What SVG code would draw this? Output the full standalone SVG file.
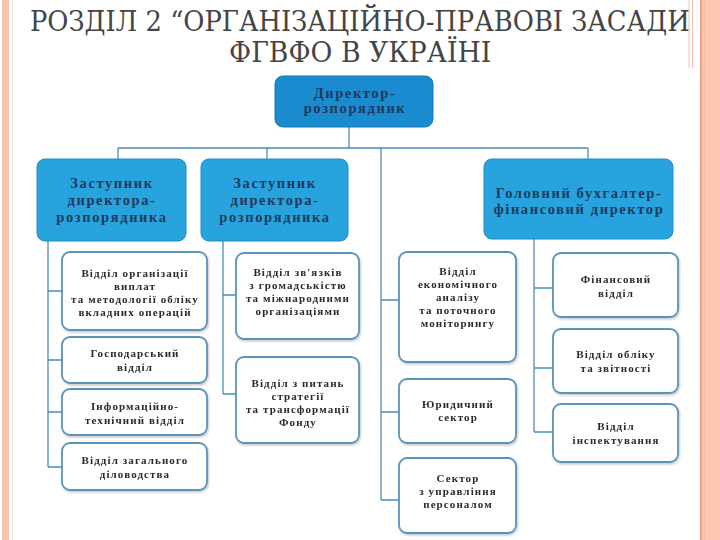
<svg xmlns="http://www.w3.org/2000/svg" width="720" height="540" viewBox="0 0 720 540">
<defs>
<style>
.title{font-family:"DejaVu Serif","Liberation Serif",serif;font-size:28px;fill:#444444}
.bt{font-family:"Liberation Serif","DejaVu Serif",serif;font-weight:bold;font-size:14.5px;letter-spacing:1.6px;fill:#1e3a5c;text-anchor:middle}
.wt{font-family:"Liberation Serif","DejaVu Serif",serif;font-weight:bold;font-size:11px;letter-spacing:1.1px;fill:#2a2a2a;text-anchor:middle}
.top{fill:#1b8bd0;stroke:#1779b8;stroke-width:1}
.mid{fill:#27a3de;stroke:#1f8cc4;stroke-width:1}
.box{fill:#ffffff;stroke:#5b93b8;stroke-width:1.8}
.con{stroke:#4f8db5;stroke-width:1.3;fill:none}
</style>
<filter id="sh" x="-10%" y="-10%" width="130%" height="130%">
<feDropShadow dx="1" dy="1.5" stdDeviation="1.2" flood-color="#000" flood-opacity="0.22"/>
</filter>
</defs>
<rect width="720" height="540" fill="#ffffff"/>
<g id="decor">
<rect x="2" y="0" width="7" height="540" fill="#fcc4ae"/>
<line x1="12.5" y1="0" x2="12.5" y2="540" stroke="#fde3d8" stroke-width="1"/>
<rect x="700" y="0" width="20" height="540" fill="#fcc7b3"/>
<line x1="701" y1="0" x2="701" y2="540" stroke="#f2a07e" stroke-width="2"/>
<line x1="704.5" y1="0" x2="704.5" y2="540" stroke="#f7b9a0" stroke-width="1"/>
<line x1="689" y1="0" x2="689" y2="68" stroke="#f4c2ad" stroke-width="1"/>
<line x1="692.5" y1="0" x2="692.5" y2="68" stroke="#f4c2ad" stroke-width="1"/>
</g>
<g id="title" transform="scale(0.86 1)">
<text class="title" x="34.9" y="31" textLength="767" lengthAdjust="spacingAndGlyphs">РОЗДІЛ 2 “ОРГАНІЗАЦІЙНО-ПРАВОВІ ЗАСАДИ</text>
<text class="title" x="266.3" y="62" textLength="305" lengthAdjust="spacingAndGlyphs">ФГВФО В УКРАЇНІ</text>
</g>
<g id="connectors">
<path class="con" d="M349 127V148M118 148H588M118 148V159M267 148V159M588 148V159M381 148V500"/>
<path class="con" d="M48 241V467M48 291H62M48 360H62M48 412H62M48 467H62"/>
<path class="con" d="M223 241V394M223 295H236M223 394H236"/>
<path class="con" d="M381 300H399M381 412H399M381 500H399"/>
<path class="con" d="M534 239V432M534 288H553M534 368H553M534 432H553"/>
</g>
<g id="director">
<rect class="top" x="275" y="76" width="158" height="51" rx="8"/>
<text class="bt" x="355" y="98">Директор-</text>
<text class="bt" x="355" y="113">розпорядник</text>
</g>
<g id="deputy1">
<rect class="mid" x="37" y="159" width="149" height="82" rx="8"/>
<text class="bt" x="112" y="188">Заступник</text>
<text class="bt" x="112" y="205">директора-</text>
<text class="bt" x="112" y="222">розпорядника</text>
</g>
<g id="deputy2">
<rect class="mid" x="201" y="159" width="147" height="82" rx="8"/>
<text class="bt" x="275" y="188">Заступник</text>
<text class="bt" x="275" y="205">директора-</text>
<text class="bt" x="275" y="222">розпорядника</text>
</g>
<g id="chief-accountant">
<rect class="mid" x="484" y="159" width="189" height="80" rx="8"/>
<text class="bt" x="579" y="198">Головний бухгалтер-</text>
<text class="bt" x="579" y="214">фінансовий директор</text>
</g>
<g id="payments" filter="url(#sh)">
<rect class="box" x="62" y="252" width="145" height="78" rx="8"/>
<text class="wt" x="135" y="277">Відділ організації</text>
<text class="wt" x="135" y="290">виплат</text>
<text class="wt" x="135" y="303">та методології обліку</text>
<text class="wt" x="135" y="316">вкладних операцій</text>
</g>
<g id="household" filter="url(#sh)">
<rect class="box" x="62" y="337" width="145" height="46" rx="8"/>
<text class="wt" x="135" y="357">Господарський</text>
<text class="wt" x="135" y="371">відділ</text>
</g>
<g id="it" filter="url(#sh)">
<rect class="box" x="62" y="389" width="145" height="46" rx="8"/>
<text class="wt" x="135" y="410">Інформаційно-</text>
<text class="wt" x="135" y="424">технічний відділ</text>
</g>
<g id="records" filter="url(#sh)">
<rect class="box" x="62" y="443" width="145" height="47" rx="8"/>
<text class="wt" x="135" y="464">Відділ загального</text>
<text class="wt" x="135" y="478">діловодства</text>
</g>
<g id="public-relations" filter="url(#sh)">
<rect class="box" x="236" y="253" width="123" height="86" rx="8"/>
<text class="wt" x="298" y="276">Відділ зв'язків</text>
<text class="wt" x="298" y="289">з громадськістю</text>
<text class="wt" x="298" y="302">та міжнародними</text>
<text class="wt" x="298" y="315">організаціями</text>
</g>
<g id="strategy" filter="url(#sh)">
<rect class="box" x="236" y="357" width="123" height="86" rx="8"/>
<text class="wt" x="298" y="387">Відділ з питань</text>
<text class="wt" x="298" y="400">стратегії</text>
<text class="wt" x="298" y="413">та трансформації</text>
<text class="wt" x="298" y="426">Фонду</text>
</g>
<g id="economic-analysis" filter="url(#sh)">
<rect class="box" x="399" y="252" width="117" height="110" rx="8"/>
<text class="wt" x="458" y="275">Відділ</text>
<text class="wt" x="458" y="288">економічного</text>
<text class="wt" x="458" y="301">аналізу</text>
<text class="wt" x="458" y="314">та поточного</text>
<text class="wt" x="458" y="327">моніторингу</text>
</g>
<g id="legal" filter="url(#sh)">
<rect class="box" x="399" y="379" width="117" height="64" rx="8"/>
<text class="wt" x="458" y="408">Юридичний</text>
<text class="wt" x="458" y="421">сектор</text>
</g>
<g id="hr" filter="url(#sh)">
<rect class="box" x="399" y="458" width="117" height="75" rx="8"/>
<text class="wt" x="458" y="482">Сектор</text>
<text class="wt" x="458" y="495">з управління</text>
<text class="wt" x="458" y="508">персоналом</text>
</g>
<g id="finance" filter="url(#sh)">
<rect class="box" x="553" y="253" width="125" height="64" rx="8"/>
<text class="wt" x="616" y="283">Фінансовий</text>
<text class="wt" x="616" y="297">відділ</text>
</g>
<g id="accounting" filter="url(#sh)">
<rect class="box" x="553" y="329" width="125" height="64" rx="8"/>
<text class="wt" x="616" y="358">Відділ обліку</text>
<text class="wt" x="616" y="372">та звітності</text>
</g>
<g id="inspection" filter="url(#sh)">
<rect class="box" x="553" y="404" width="125" height="58" rx="8"/>
<text class="wt" x="616" y="430">Відділ</text>
<text class="wt" x="616" y="444">інспектування</text>
</g>
</svg>
